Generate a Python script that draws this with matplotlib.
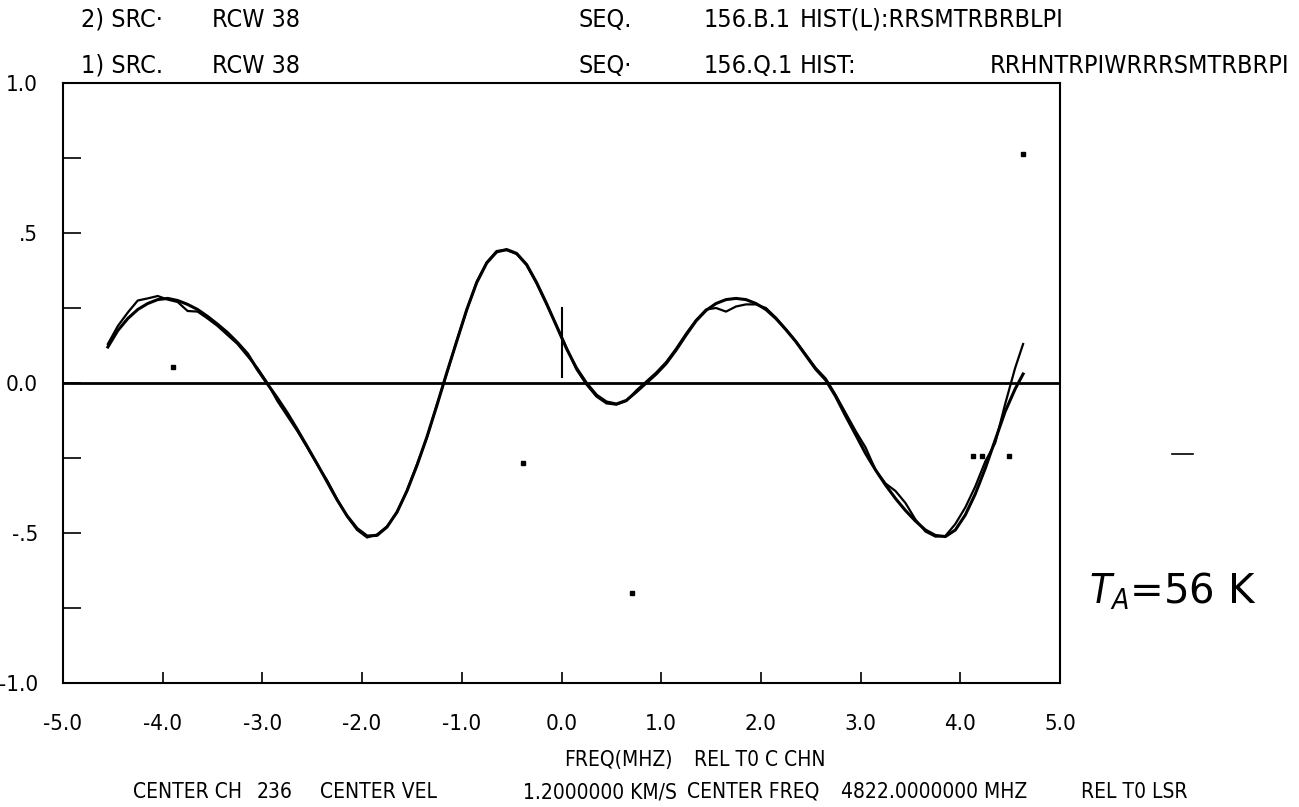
import matplotlib
matplotlib.use("Agg")
import matplotlib.pyplot as plt

W, H = 1299, 807
plt.rcParams['font.family'] = ['DejaVu Sans']
plt.rcParams['font.stretch'] = 'condensed'

# frequency grid (MHz rel. to centre channel)
freq = [-4.55, -4.45, -4.35, -4.25, -4.15, -4.05, -3.95, -3.85, -3.75, -3.65,
        -3.55, -3.45, -3.35, -3.25, -3.15, -3.05, -2.95, -2.85, -2.75, -2.65,
        -2.55, -2.45, -2.35, -2.25, -2.15, -2.05, -1.95, -1.85, -1.75, -1.65,
        -1.55, -1.45, -1.35, -1.25, -1.15, -1.05, -0.95, -0.85, -0.75, -0.65,
        -0.55, -0.45, -0.35, -0.25, -0.15, -0.05, 0.05, 0.15, 0.25, 0.35,
        0.45, 0.55, 0.65, 0.75, 0.85, 0.95, 1.05, 1.15, 1.25, 1.35,
        1.45, 1.55, 1.65, 1.75, 1.85, 1.95, 2.05, 2.15, 2.25, 2.35,
        2.45, 2.55, 2.65, 2.75, 2.85, 2.95, 3.05, 3.15, 3.25, 3.35,
        3.45, 3.55, 3.65, 3.75, 3.85, 3.95, 4.05, 4.15, 4.25, 4.35,
        4.45, 4.55, 4.63]

# 1) smooth baseline fit
ta_fit = [0.12, 0.175, 0.215, 0.245, 0.265, 0.278, 0.282, 0.275, 0.262, 0.245,
          0.222, 0.196, 0.168, 0.135, 0.098, 0.045, -0.003, -0.05, -0.10, -0.155,
          -0.212, -0.27, -0.33, -0.39, -0.443, -0.485, -0.51, -0.508, -0.48, -0.43,
          -0.36, -0.275, -0.18, -0.075, 0.035, 0.14, 0.245, 0.335, 0.40, 0.437,
          0.445, 0.432, 0.395, 0.335, 0.265, 0.19, 0.115, 0.05, 0.0, -0.04,
          -0.063, -0.07, -0.058, -0.03, 0.0, 0.03, 0.065, 0.11, 0.16, 0.207,
          0.242, 0.265, 0.278, 0.282, 0.278, 0.265, 0.245, 0.215, 0.178, 0.138,
          0.092, 0.046, 0.01, -0.045, -0.11, -0.172, -0.235, -0.29, -0.34, -0.385,
          -0.425, -0.46, -0.49, -0.508, -0.512, -0.49, -0.44, -0.37, -0.285, -0.19,
          -0.095, -0.02, 0.03]

# 2) observed spectrum
ta_obs = [0.13, 0.19, 0.235, 0.275, 0.282, 0.29, 0.278, 0.27, 0.24, 0.238,
          0.215, 0.19, 0.16, 0.13, 0.09, 0.05, 0.0, -0.06, -0.11, -0.16,
          -0.215, -0.272, -0.325, -0.388, -0.445, -0.49, -0.515, -0.505, -0.478, -0.432,
          -0.358, -0.272, -0.182, -0.072, 0.032, 0.142, 0.243, 0.338, 0.402, 0.44,
          0.443, 0.43, 0.393, 0.332, 0.262, 0.192, 0.118, 0.045, -0.005, -0.045,
          -0.068, -0.072, -0.06, -0.025, 0.005, 0.035, 0.07, 0.115, 0.165, 0.21,
          0.245, 0.25, 0.238, 0.255, 0.262, 0.262, 0.25, 0.218, 0.18, 0.14,
          0.095, 0.05, 0.015, -0.04, -0.1, -0.16, -0.215, -0.29, -0.335, -0.36,
          -0.40, -0.455, -0.495, -0.512, -0.51, -0.47, -0.415, -0.345, -0.262, -0.2,
          -0.07, 0.05, 0.13]

marker_x = 0.0
marker_y = [0.02, 0.25]

specks_x = [-3.9, -0.385, 0.71, 4.63, 4.13, 4.22, 4.49]
specks_y = [0.053, -0.267, -0.70, 0.763, -0.243, -0.243, -0.243]

xticks = [-5, -4, -3, -2, -1, 0, 1, 2, 3, 4, 5]
xlabels = ['-5.0', '-4.0', '-3.0', '-2.0', '-1.0', '0.0', '1.0', '2.0', '3.0', '4.0', '5.0']
yticks = [-1.0, -0.5, 0.0, 0.5, 1.0]
ylabels = ['-1.0', '-.5', '0.0', '.5', '1.0']
yminor = [-0.75, -0.25, 0.25, 0.75]

fig = plt.figure(figsize=(W / 100, H / 100), dpi=100)
ax = fig.add_axes([63 / W, 1 - 683 / H, (1060 - 63) / W, (683 - 83) / H])
ax.set_xlim(-5, 5)
ax.set_ylim(-1, 1)

ax.plot(freq, ta_fit, color='black', lw=2.2)
ax.plot(freq, ta_obs, color='black', lw=1.6)
ax.axhline(0, color='black', lw=2.0)
ax.plot([marker_x, marker_x], marker_y, color='black', lw=1.5)
ax.plot(specks_x, specks_y, 's', color='black', ms=2.5, lw=0)
ax.plot([6.12, 6.33], [-0.237, -0.237], color='black', lw=1.2, clip_on=False)

for s in ax.spines.values():
    s.set_linewidth(1.5)

ax.set_xticks(xticks)
ax.set_xticklabels(xlabels, fontsize=16)
ax.set_yticks(yticks)
ax.set_yticklabels(ylabels, fontsize=16)
ax.set_yticks(yminor, minor=True)
ax.tick_params(axis='x', direction='in', length=8, width=1.2, pad=22)
ax.tick_params(axis='y', which='both', direction='in', length=13, width=1.2, pad=18)


def ftext(x, y, s, size=18, **kw):
    fig.text(x / W, 1 - y / H, s, fontsize=size, va='center', ha='left', **kw)


# header rows
ftext(81, 20, '2) SRC·')
ftext(212, 20, 'RCW 38')
ftext(579, 20, 'SEQ.')
ftext(704, 20, '156.B.1')
ftext(800, 20, 'HIST(L):RRSMTRBRBLPI')
ftext(81, 66, '1) SRC.')
ftext(212, 66, 'RCW 38')
ftext(579, 66, 'SEQ·')
ftext(704, 66, '156.Q.1')
ftext(800, 66, 'HIST:')
ftext(990, 66, 'RRHNTRPIWRRRSMTRBRPI')

# footer
ftext(564, 760, 'FREQ(MHZ)', size=15)
ftext(694, 760, 'REL T0 C CHN', size=15)
ftext(133, 792, 'CENTER CH', size=15)
ftext(257, 792, '236', size=15)
ftext(320, 792, 'CENTER VEL', size=15)
ftext(523, 792, '1.2000000 KM/S', size=15)
ftext(687, 792, 'CENTER FREQ', size=15)
ftext(841, 792, '4822.0000000 MHZ', size=15)
ftext(1081, 792, 'REL T0 LSR', size=15)

# handwritten note
ftext(1089, 592, '$T_A$=56 K', size=29, stretch='normal')

fig.savefig('out.png', dpi=100)
